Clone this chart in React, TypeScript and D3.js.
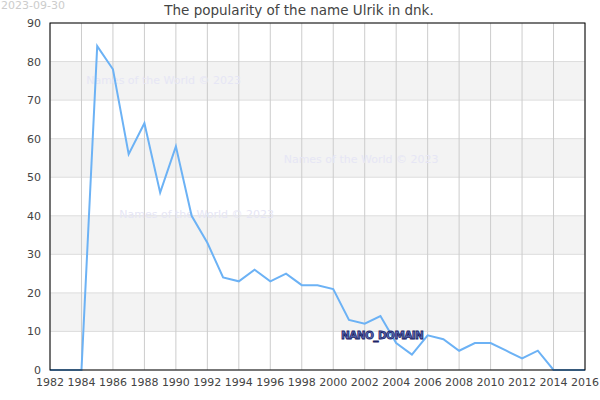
import React, { useEffect, useRef } from "react";
import * as d3 from "d3";

const years = d3.range(1982, 2017);
const values = [
  0, 0, 0, 84, 78, 56, 64, 46, 58, 40, 33, 24, 23, 26, 23, 25, 22, 22, 21, 13,
  12, 14, 7, 4, 9, 8, 5, 7, 7, 5, 3, 5, 0, 0, 0,
];
const xTicks = d3.range(1982, 2017, 2);
const yTicks = d3.range(0, 91, 10);
const watermarks = [
  { year: 1984.3, value: 74.2 },
  { year: 1996.85, value: 53.7 },
  { year: 1986.4, value: 39.5 },
];

const App: React.FC = () => {
  const svgRef = useRef<SVGSVGElement | null>(null);

  useEffect(() => {
    if (!svgRef.current) return;
    const width = 600;
    const height = 400;
    const margin = { top: 23, right: 15, bottom: 30, left: 50 };

    d3.select(svgRef.current).selectAll("*").remove();
    const svg = d3
      .select(svgRef.current)
      .attr("width", width)
      .attr("height", height)
      .style("font-family", "DejaVu Sans, sans-serif");

    const x = d3
      .scaleLinear()
      .domain([1982, 2016])
      .range([margin.left, width - margin.right]);
    const y = d3
      .scaleLinear()
      .domain([0, 90])
      .range([height - margin.bottom, margin.top]);

    // alternating bands
    svg
      .selectAll(".band")
      .data([10, 30, 50, 70])
      .enter()
      .append("rect")
      .attr("x", margin.left)
      .attr("width", width - margin.right - margin.left)
      .attr("y", (d) => y(d + 10))
      .attr("height", (d) => y(d) - y(d + 10))
      .attr("fill", "#f3f3f3");

    // horizontal grid
    svg
      .selectAll(".hgrid")
      .data(yTicks)
      .enter()
      .append("line")
      .attr("x1", margin.left)
      .attr("x2", width - margin.right)
      .attr("y1", (d) => y(d))
      .attr("y2", (d) => y(d))
      .attr("stroke", "#dddddd");

    // vertical grid
    svg
      .selectAll(".vgrid")
      .data(xTicks)
      .enter()
      .append("line")
      .attr("x1", (d) => x(d))
      .attr("x2", (d) => x(d))
      .attr("y1", margin.top)
      .attr("y2", height - margin.bottom)
      .attr("stroke", "#cccccc");

    // watermarks
    svg
      .selectAll(".wm")
      .data(watermarks)
      .enter()
      .append("text")
      .attr("x", (d) => x(d.year))
      .attr("y", (d) => y(d.value))
      .attr("fill", "#e6e6f5")
      .style("font-size", "11px")
      .text("Names of the World © 2023");

    // line
    const line = d3
      .line<number>()
      .x((_, i) => x(years[i]))
      .y((d) => y(d));
    svg
      .append("path")
      .datum(values)
      .attr("d", line)
      .attr("fill", "none")
      .attr("stroke", "#6cb2f5")
      .attr("stroke-width", 2);

    // frame
    svg
      .append("rect")
      .attr("x", margin.left)
      .attr("y", margin.top)
      .attr("width", width - margin.right - margin.left)
      .attr("height", height - margin.bottom - margin.top)
      .attr("fill", "none")
      .attr("stroke", "#000")
      .attr("stroke-width", 1);

    // axes labels
    svg
      .selectAll(".ylab")
      .data(yTicks)
      .enter()
      .append("text")
      .attr("x", margin.left - 9)
      .attr("y", (d) => y(d) + 4)
      .attr("text-anchor", "end")
      .attr("fill", "#444")
      .style("font-size", "11px")
      .text((d) => d);

    svg
      .selectAll(".xlab")
      .data(xTicks)
      .enter()
      .append("text")
      .attr("x", (d) => x(d))
      .attr("y", height - margin.bottom + 16)
      .attr("text-anchor", "middle")
      .attr("fill", "#444")
      .style("font-size", "11px")
      .text((d) => d);

    // title
    svg
      .append("text")
      .attr("x", 299)
      .attr("y", 15)
      .attr("text-anchor", "middle")
      .attr("fill", "#444")
      .style("font-size", "13.5px")
      .text("The popularity of the name Ulrik in dnk.");

    svg
      .append("text")
      .attr("x", 1)
      .attr("y", 9)
      .attr("fill", "#cccccc")
      .style("font-size", "11px")
      .text("2023-09-30");

    svg
      .append("text")
      .attr("x", x(2000.5))
      .attr("y", y(8))
      .attr("fill", "#5a6ab8")
      .attr("stroke", "#1a2366")
      .attr("stroke-width", 0.8)
      .style("font-size", "10.5px")
      .style("font-weight", "bold")
      .style("letter-spacing", "-0.6px")
      .text("NANO_DOMAIN");
  }, []);

  return (
    <div style={{ position: "absolute", left: 0, top: 0 }}>
      <svg ref={svgRef}></svg>
    </div>
  );
};

export default App;
